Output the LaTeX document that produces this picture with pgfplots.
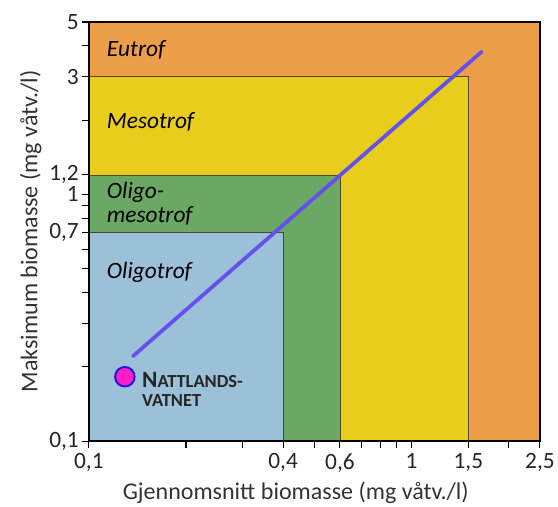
\documentclass[border=0pt]{standalone}
\usepackage{pgfplots}
\pgfplotsset{compat=1.18}
\usepackage{fontspec}
\setmainfont{Carlito}
\definecolor{orng}{RGB}{237,158,72}
\definecolor{yel}{RGB}{232,205,28}
\definecolor{grn}{RGB}{106,168,100}
\definecolor{lblue}{RGB}{155,192,216}
\definecolor{purp}{RGB}{100,80,240}
\definecolor{mag}{RGB}{255,30,200}
\definecolor{dblue}{RGB}{40,20,220}
\definecolor{edge}{RGB}{80,70,40}
\begin{document}
\begin{tikzpicture}
\begin{axis}[
  xmode=log, ymode=log,
  scale only axis, width=338pt, height=314pt,
  xmin=0.1, xmax=2.5, ymin=0.1, ymax=5,
  axis on top,
  axis line style={black, line width=1pt},
  tick pos=left, tick align=outside,
  major tick length=5pt, minor tick length=5pt,
  tick style={black, line width=0.8pt},
  xtick={0.1,0.4,0.6,1,1.5,2.5},
  xticklabels={{0,1},{0,4},{0,6},{1},{1,5},{2,5}},
  minor xtick={0.2,0.3,0.5,0.7,0.8,0.9,2},
  ytick={0.1,0.7,1,1.2,3,5},
  yticklabels={{0,1},{0,7},{1},{1,2},{3},{5}},
  minor ytick={0.2,0.3,0.4,0.5,0.6,0.8,0.9,2,4},
  ticklabel style={font=\fontsize{17.5}{19}\selectfont, text=black!85},
  xticklabel style={yshift=-1pt},
  yticklabel style={xshift=1pt},
  xlabel={Gjennomsnitt biomasse (mg våtv./l)},
  ylabel={Maksimum biomasse (mg våtv./l)},
  label style={font=\fontsize{18}{20}\selectfont, text=black!80},
  xlabel style={xshift=-14pt, yshift=0pt},
  ylabel style={yshift=-1pt},
  clip=false,
]
\addplot[fill=orng, draw=none] coordinates {(0.1,0.1) (2.5,0.1) (2.5,5) (0.1,5)} -- cycle;
\addplot[fill=yel, draw=edge, line width=0.5pt] coordinates {(0.1,0.1) (1.5,0.1) (1.5,3) (0.1,3)} -- cycle;
\addplot[fill=grn, draw=edge, line width=0.5pt] coordinates {(0.1,0.1) (0.6,0.1) (0.6,1.2) (0.1,1.2)} -- cycle;
\addplot[fill=lblue, draw=edge, line width=0.5pt] coordinates {(0.1,0.1) (0.4,0.1) (0.4,0.7) (0.1,0.7)} -- cycle;
\addplot[purp, line width=2.8pt, line cap=round] coordinates {(0.137,0.221) (1.65,3.79)};
\addplot[only marks, mark=*, mark size=7.3pt, mark options={fill=mag, draw=dblue, line width=1.5pt}] coordinates {(0.1293,0.1823)};
\node[anchor=west, font=\fontsize{17.5}{19}\selectfont\itshape, inner sep=1pt] at (axis cs:0.1125,3.85) {Eutrof};
\node[anchor=west, font=\fontsize{17.5}{19}\selectfont\itshape, inner sep=1pt] at (axis cs:0.1125,1.966) {Mesotrof};
\node[anchor=west, align=left, font=\fontsize{17.5}{18}\selectfont\itshape, inner sep=1pt] at (axis cs:0.1125,0.914) {Oligo-\\mesotrof};
\node[anchor=west, font=\fontsize{17.5}{19}\selectfont\itshape, inner sep=1pt] at (axis cs:0.1125,0.4845) {Oligotrof};
\node[anchor=north west, align=left, font=\bfseries, inner sep=0pt, text=black!85] at (axis cs:0.146,0.19) {{\fontsize{17.5}{16}\selectfont N}{\fontsize{13.8}{16}\selectfont ATTLANDS-}\\[2pt]{\fontsize{13.8}{16}\selectfont VATNET}};
\coordinate (bl) at (rel axis cs:-0.197,-0.155);
\coordinate (tr) at (rel axis cs:1.040,1.0525);
\end{axis}
\pgfresetboundingbox
\path[use as bounding box] (bl) rectangle (tr);
\end{tikzpicture}
\end{document}
